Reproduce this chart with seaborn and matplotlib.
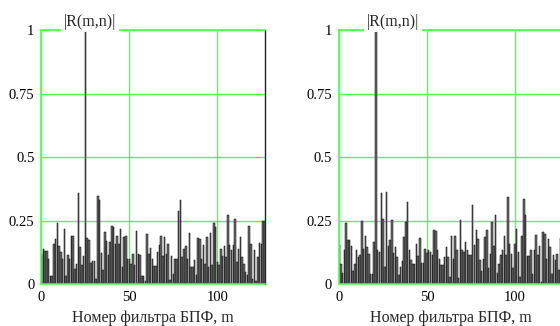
import numpy as np
import matplotlib
matplotlib.use("Agg")
import matplotlib.pyplot as plt
import seaborn as sns

# номера фильтров БПФ
m = np.arange(128)

# |R(m,n)| - левый график
r_left = [0.12, 0.137, 0.13, 0.13, 0.10, 0.03, 0.03, 0.156, 0.178, 0.24,
          0.148, 0.126, 0.097, 0.218, 0.03, 0.113, 0.10, 0.19, 0.19, 0.06,
          0.08, 0.357, 0.146, 0.073, 0.11, 1.0, 0.182, 0.172, 0.084, 0.09,
          0.09, 0.02, 0.346, 0.33, 0.122, 0.054, 0.205, 0.168, 0.113, 0.165,
          0.227, 0.224, 0.159, 0.19, 0.159, 0.218, 0.067, 0.185, 0.19, 0.097,
          0.097, 0.08, 0.12, 0.073, 0.209, 0.12, 0.115, 0.03, 0.03, 0.01,
          0.197, 0.12, 0.14, 0.10,
          0.07, 0.07, 0.126, 0.155, 0.19, 0.11, 0.185, 0.12, 0.159, 0.014,
          0.109, 0.04, 0.10, 0.10, 0.286, 0.33, 0.106, 0.136, 0.148, 0.097,
          0.20, 0.067, 0.067, 0.093, 0.034, 0.18, 0.176, 0.097, 0.152, 0.077,
          0.185, 0.067, 0.20, 0.073, 0.241, 0.224, 0.087, 0.073, 0.139, 0.11,
          0.148, 0.106, 0.27, 0.152, 0.135, 0.152, 0.257, 0.087, 0.136, 0.185,
          0.106, 0.08, 0.047, 0.034, 0.227, 0.159, 0.02, 0.133, 0.01, 0.106,
          0.163, 0.159, 0.247, 0.25]

# |R(m,n)| - правый график
r_right = [0.155, 0.077, 0.045, 0.135, 0.24, 0.175, 0.175, 0.148, 0.05, 0.077,
           0.135, 0.106, 0.113, 0.25, 0.139, 0.188, 0.146, 0.12, 0.04, 0.04,
           0.165, 1.0, 0.135, 0.126, 0.36, 0.257, 0.067, 0.362, 0.148, 0.175,
           0.253, 0.122, 0.146, 0.106, 0.034, 0.067, 0.09, 0.185, 0.244, 0.323,
           0.133, 0.093, 0.077, 0.077, 0.156, 0.11, 0.182, 0.084, 0.084, 0.139,
           0.122, 0.133, 0.126, 0.113, 0.211, 0.209, 0.133, 0.097, 0.073, 0.073,
           0.106, 0.146, 0.106, 0.028,
           0.188, 0.097, 0.188, 0.133, 0.024, 0.253, 0.133, 0.126, 0.165, 0.133,
           0.113, 0.113, 0.31, 0.152, 0.214, 0.178, 0.093, 0.05, 0.1, 0.185,
           0.211, 0.063, 0.117, 0.244, 0.148, 0.27, 0.045, 0.08, 0.113, 0.133,
           0.188, 0.113, 0.343, 0.156, 0.12, 0.063, 0.156, 0.218, 0.126, 0.028,
           0.188, 0.336, 0.27, 0.11, 0.11, 0.133, 0.04, 0.133, 0.194, 0.113,
           0.148, 0.008, 0.205, 0.198, 0.1, 0.178, 0.146, 0.04, 0.113, 0.093,
           0.12, 0.054, 0.18, 0.15]

y_ticks = [0, 0.25, 0.5, 0.75, 1]
y_labels = ["0", "0.25", "0.5", "0.75", "1"]
x_ticks = [0, 50, 100]

sns.set_style("white")
plt.rcParams["font.family"] = ["Liberation Serif", "DejaVu Serif"]

green = "#4dff4d"
fig = plt.figure(figsize=(5.6, 3.26), dpi=100)
ax1 = fig.add_axes([0.0741, 0.1288, 0.399, 0.779])
ax2 = fig.add_axes([0.6054, 0.1288, 0.399, 0.779])

for ax, vals, tx in [(ax1, r_left, 0.217), (ax2, r_right, 0.242)]:
    sns.barplot(x=m, y=vals, native_scale=True, errorbar=None, ax=ax,
                color="#6e6e6e", edgecolor="black", linewidth=0.35, width=0.85,
                saturation=1)
    ax.set_xlim(0, 127)
    ax.set_ylim(0, 1)
    ax.set_yticks(y_ticks)
    ax.set_yticklabels(y_labels)
    ax.set_xticks(x_ticks)
    ax.tick_params(length=0, labelsize=10.5, pad=5, colors="black")
    ax.grid(True, color=green, linewidth=1)
    ax.set_axisbelow(True)
    for s in ["left", "bottom", "top"]:
        ax.spines[s].set_color(green)
        ax.spines[s].set_linewidth(1.2)
    ax.spines["right"].set_color("#222222")
    ax.spines["right"].set_linewidth(1)
    ax.set_xlabel("Номер фильтра БПФ, m", fontsize=11.5, labelpad=4)
    ax.set_ylabel("")
    ax.text(tx, 1.002, "|R(m,n)|", transform=ax.transAxes, ha="center",
            va="bottom", fontsize=11.5,
            bbox=dict(facecolor="white", edgecolor="none", pad=2))

fig.savefig("out.png", dpi=100)
